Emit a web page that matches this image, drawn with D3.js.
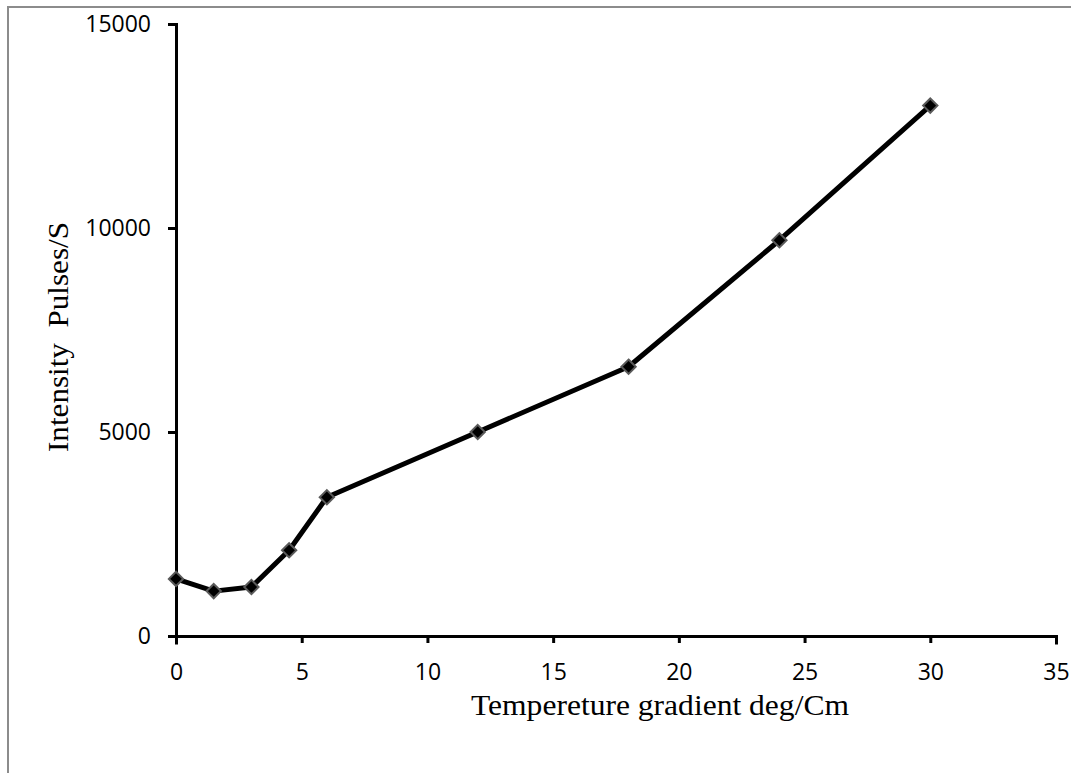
<!DOCTYPE html>
<html>
<head>
<meta charset="utf-8">
<script src="https://cdn.jsdelivr.net/npm/d3@7"></script>
<style>
  body { margin: 0; background: #fff; }
  .tick text { font-family: "Open Sans", "Liberation Sans", sans-serif; font-size: 23px; fill: #000; }
  .axis-title { font-family: "Liberation Serif", "Times New Roman", serif; font-size: 29px; fill: #000; }
</style>
</head>
<body>
<svg id="chart" width="1071" height="773"></svg>
<script>
// values
var gradient = [0, 1.5, 3, 4.5, 6, 12, 18, 24, 30];
var intensity = [1400, 1100, 1200, 2100, 3400, 5000, 6600, 9700, 13000];
var xTicks = [0, 5, 10, 15, 20, 25, 30, 35];
var yTicks = [0, 5000, 10000, 15000];
var xTitle = 'Tempereture gradient deg/Cm';
var yTitle = 'Intensity\u00a0\u00a0Pulses/S';

var svg = d3.select('#chart');

// outer frame (runs off the right and bottom of the window)
svg.append('rect')
  .attr('x', 8).attr('y', 7)
  .attr('width', 1100).attr('height', 800)
  .attr('fill', 'none')
  .attr('stroke', '#8c8c8c')
  .attr('stroke-width', 2);

var margin = { top: 24, left: 176 };
var width = 1056 - 176;
var height = 636 - 24;

var x = d3.scaleLinear().domain([0, 35]).range([0, width]);
var y = d3.scaleLinear().domain([0, 15000]).range([height, 0]);

var g = svg.append('g')
  .attr('transform', 'translate(' + margin.left + ',' + margin.top + ')');

var xAxis = d3.axisBottom(x).tickValues(xTicks).tickFormat(d3.format('d'))
  .tickSize(7).tickPadding(21).tickSizeOuter(7);
var yAxis = d3.axisLeft(y).tickValues(yTicks).tickFormat(d3.format('d'))
  .tickSize(8).tickPadding(17).tickSizeOuter(0);

var gy = g.append('g').attr('class', 'y axis').call(yAxis);
var gx = g.append('g').attr('class', 'x axis')
  .attr('transform', 'translate(0,' + height + ')')
  .call(xAxis);

[gx, gy].forEach(function (ax) {
  ax.selectAll('path, line').attr('stroke', '#000').attr('stroke-width', 3);
  ax.select('.domain').attr('stroke-linecap', 'square');
});
gx.selectAll('.tick text').attr('dy', '0.71em');

// line
var valueline = d3.line()
  .x(function (d) { return x(d[0]); })
  .y(function (d) { return y(d[1]); });

var pts = gradient.map(function (v, i) { return [v, intensity[i]]; });

g.append('path')
  .attr('d', valueline(pts))
  .attr('fill', 'none')
  .attr('stroke', '#000')
  .attr('stroke-width', 5)
  .attr('stroke-linejoin', 'round');

// diamond markers
g.append('g').selectAll('path')
  .data(pts)
  .enter()
  .append('path')
  .attr('d', d3.symbol().type(d3.symbolDiamond2).size(130))
  .attr('transform', function (d) { return 'translate(' + x(d[0]) + ',' + y(d[1]) + ')'; })
  .attr('fill', '#000')
  .attr('stroke', '#5a5a5a')
  .attr('stroke-width', 2);

// axis titles
svg.append('text')
  .attr('class', 'axis-title')
  .attr('x', 660).attr('y', 715)
  .attr('text-anchor', 'middle')
  .attr('textLength', 378)
  .attr('lengthAdjust', 'spacingAndGlyphs')
  .text(xTitle);

svg.append('text')
  .attr('class', 'axis-title')
  .attr('transform', 'translate(68,337) rotate(-90)')
  .attr('text-anchor', 'middle')
  .attr('textLength', 230)
  .attr('lengthAdjust', 'spacingAndGlyphs')
  .text(yTitle);
</script>
</body>
</html>
